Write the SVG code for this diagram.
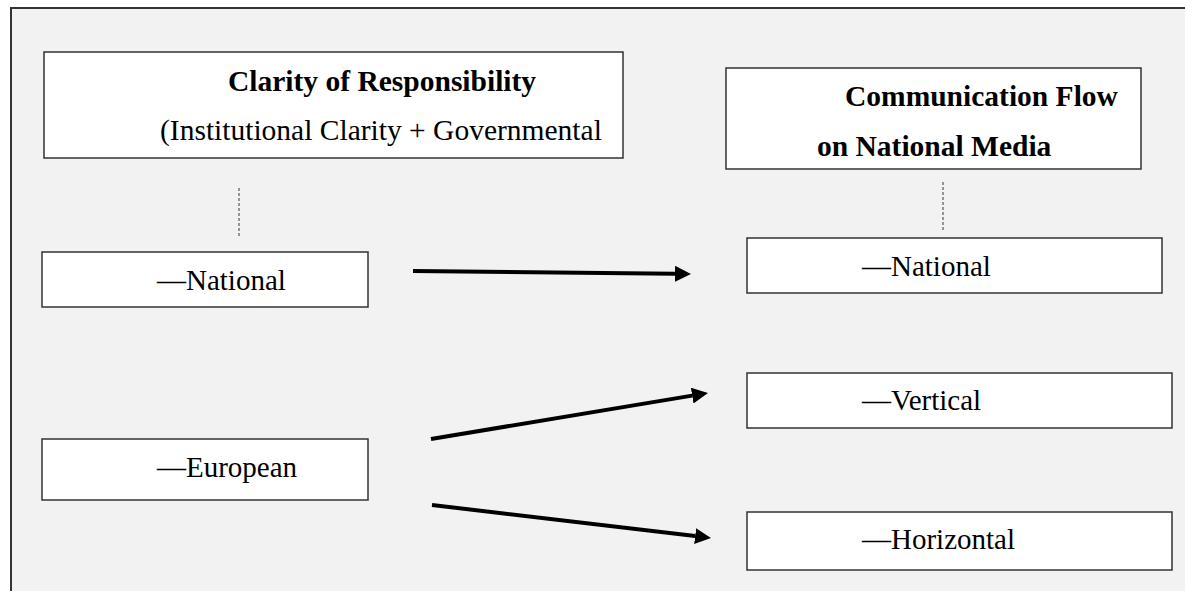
<svg xmlns="http://www.w3.org/2000/svg" width="1185" height="591" viewBox="0 0 1185 591">
<style>
.box{fill:#ffffff;stroke:#333333;stroke-width:1.5}
.t{font-family:"Liberation Serif","Times New Roman",serif;font-size:29px;fill:#000}
.b{font-weight:bold;font-size:29.5px}
.dash{stroke:#555555;stroke-width:1.2;stroke-dasharray:3 2;fill:none}
.arrow{stroke:#000;stroke-width:4;fill:none;marker-end:url(#ah)}
</style>
<defs>
<marker id="ah" markerUnits="userSpaceOnUse" markerWidth="16" markerHeight="16" viewBox="0 0 16 16" refX="0" refY="8" orient="auto">
<path d="M0,0 L16,8 L0,16 z" fill="#000"/>
</marker>
</defs>
<rect x="0" y="0" width="1185" height="591" fill="#ffffff"/>
<rect x="11" y="8" width="1200" height="600" fill="#f2f2f2" stroke="#333333" stroke-width="2"/>
<g id="clarity">
<rect class="box" x="44" y="52" width="579" height="106"/>
<text class="t b" x="228" y="91">Clarity of Responsibility</text>
<text class="t" x="160" y="140" style="font-size:29.5px">(Institutional Clarity + Governmental</text>
</g>
<g id="commflow">
<rect class="box" x="726" y="68" width="415" height="101"/>
<text class="t b" x="845" y="106">Communication Flow</text>
<text class="t b" x="817" y="156">on National Media</text>
</g>
<g id="left-national">
<rect class="box" x="42" y="252" width="326" height="55"/>
<text class="t" x="157" y="290">—National</text>
</g>
<g id="left-european">
<rect class="box" x="42" y="439" width="326" height="61"/>
<text class="t" x="157" y="477">—European</text>
</g>
<g id="right-national">
<rect class="box" x="747" y="238" width="415" height="55"/>
<text class="t" x="862" y="276">—National</text>
</g>
<g id="right-vertical">
<rect class="box" x="747" y="373" width="425" height="55"/>
<text class="t" x="862" y="410">—Vertical</text>
</g>
<g id="right-horizontal">
<rect class="box" x="747" y="512" width="425" height="58"/>
<text class="t" x="862" y="549">—Horizontal</text>
</g>
<g id="connectors">
<line class="dash" x1="239" y1="188" x2="239" y2="238"/>
<line class="dash" x1="943" y1="182" x2="943" y2="232"/>
<line class="arrow" x1="413" y1="271" x2="675" y2="273.8"/>
<line class="arrow" x1="431" y1="439" x2="692.2" y2="395.6"/>
<line class="arrow" x1="432" y1="505" x2="695.1" y2="536.1"/>
</g>
</svg>
